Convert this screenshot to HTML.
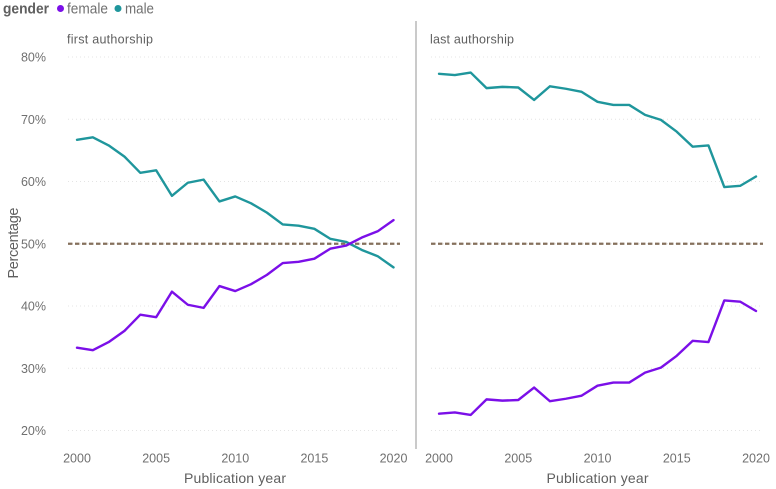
<!DOCTYPE html>
<html>
<head>
<meta charset="utf-8">
<title>Authorship by gender</title>
<style>
html,body{margin:0;padding:0;background:#fff;}
svg{display:block;font-family:"Liberation Sans",sans-serif;}
</style>
</head>
<body>
<svg id="chart" width="776" height="489" viewBox="0 0 776 489">
  <g>
    <text x="3" y="13.5" font-size="14.5" font-weight="bold" fill="#5f5f5f" textLength="46" lengthAdjust="spacingAndGlyphs">gender</text>
    <circle cx="60.5" cy="8.5" r="3.5" fill="#7b0fe8"></circle>
    <text x="67" y="13.5" font-size="14.5" fill="#707070" textLength="41" lengthAdjust="spacingAndGlyphs">female</text>
    <circle cx="118" cy="8.5" r="3.5" fill="#1f969c"></circle>
    <text x="125" y="13.5" font-size="14.5" fill="#707070" textLength="29" lengthAdjust="spacingAndGlyphs">male</text>
  </g>
  <text x="67" y="43.5" font-size="12.5" fill="#5f5f5f" textLength="86">first authorship</text>
  <text x="430" y="43.5" font-size="12.5" fill="#5f5f5f" textLength="84">last authorship</text>
  <text transform="translate(18,243) rotate(-90)" text-anchor="middle" font-size="14.5" fill="#5f5f5f" textLength="71">Percentage</text>
  <text x="235" y="483" text-anchor="middle" font-size="14" fill="#5f5f5f" textLength="102">Publication year</text>
  <text x="597.5" y="483" text-anchor="middle" font-size="14" fill="#5f5f5f" textLength="102">Publication year</text>
  <line x1="416" y1="21" x2="416" y2="449" stroke="#bcbcbc" stroke-width="1.6"></line>
  <g id="plot"></g>
</svg>
<script>
var years = [2000,2001,2002,2003,2004,2005,2006,2007,2008,2009,2010,2011,2012,2013,2014,2015,2016,2017,2018,2019,2020];
var xTicks = [2000,2005,2010,2015,2020];
var yTicks = [20,30,40,50,60,70,80];
var referenceValue = 50;
var firstFemale = [33.3,32.9,34.2,36.0,38.6,38.2,42.3,40.2,39.7,43.2,42.4,43.5,45.0,46.9,47.1,47.6,49.2,49.7,51.0,52.0,53.8];
var firstMale = [66.7,67.1,65.8,64.0,61.4,61.8,57.7,59.8,60.3,56.8,57.6,56.5,55.0,53.1,52.9,52.4,50.8,50.3,49.0,48.0,46.2];
var lastFemale = [22.7,22.9,22.5,25.0,24.8,24.9,26.9,24.7,25.1,25.6,27.2,27.7,27.7,29.3,30.1,32.0,34.4,34.2,40.9,40.7,39.2];
var lastMale = [77.3,77.1,77.5,75.0,75.2,75.1,73.1,75.3,74.9,74.4,72.8,72.3,72.3,70.7,69.9,68.0,65.6,65.8,59.1,59.3,60.8];

var NS = 'http://www.w3.org/2000/svg';
var plot = document.getElementById('plot');
function yScale(v){ return 430.5 - (v - 20) * 6.225; }
function make(tag, attrs){
  var el = document.createElementNS(NS, tag);
  for (var k in attrs) el.setAttribute(k, attrs[k]);
  plot.appendChild(el);
  return el;
}
function drawPanel(prefix, x0, x1, gridL, gridR, female, male){
  function xScale(y){ return x0 + (y - 2000) * (x1 - x0) / 20; }
  yTicks.forEach(function(t){
    var g = make('line', {x1:gridL, x2:gridR, y1:yScale(t), y2:yScale(t), stroke:'#e4e4e4', 'stroke-width':1, 'stroke-dasharray':'1 3'});
    
    
  });
  xTicks.forEach(function(t){
    var l = make('text', {x:xScale(t), y:462.5, 'text-anchor':'middle', 'font-size':12.5, fill:'#707070'});
    l.textContent = String(t);
    
    
  });
  var ref = make('line', {x1:gridL, x2:gridR, y1:yScale(referenceValue), y2:yScale(referenceValue), stroke:'#85705c', 'stroke-width':2.2, 'stroke-dasharray':'4.4 2.6'});
  
  
  function pts(arr){
    return arr.map(function(v, i){ return xScale(years[i]).toFixed(2) + ',' + yScale(v).toFixed(2); }).join(' ');
  }
  var mLine = make('polyline', {points:pts(male), fill:'none', stroke:'#1f969c', 'stroke-width':2.4, 'stroke-linejoin':'round', 'stroke-linecap':'round'});
  
  
  var fLine = make('polyline', {points:pts(female), fill:'none', stroke:'#7b0fe8', 'stroke-width':2.4, 'stroke-linejoin':'round', 'stroke-linecap':'round'});
  
  
}
yTicks.forEach(function(t){
  var l = make('text', {x:46, y:yScale(t) + 4.5, 'text-anchor':'end', 'font-size':12.5, fill:'#707070'});
  l.textContent = t + '%';
  
  
});
drawPanel('first', 77, 393.5, 68, 400, firstFemale, firstMale);
drawPanel('last', 439, 756, 431, 763, lastFemale, lastMale);
</script>
</body>
</html>
